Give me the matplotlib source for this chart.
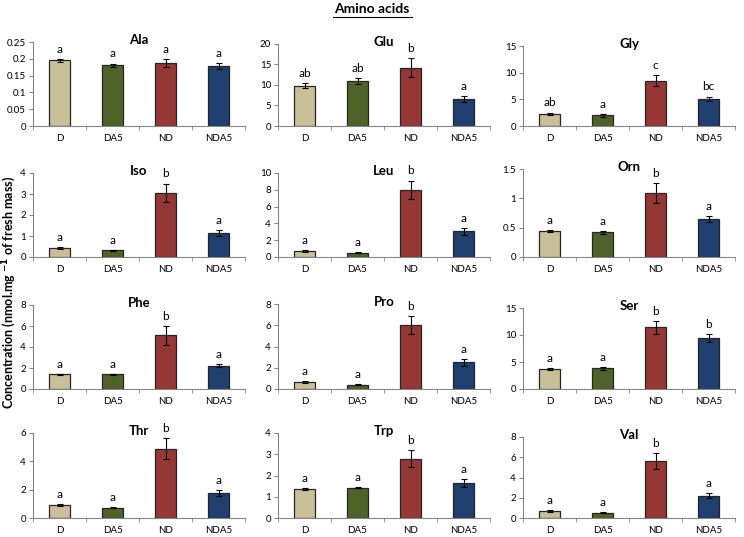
import numpy as np
import matplotlib.pyplot as plt

plt.rcParams['font.family'] = ['Lato', 'DejaVu Sans']

groups = ['D', 'DA5', 'ND', 'NDA5']
colors = ['#C9BF98', '#4F6228', '#953735', '#1F3F6E']

names = ['Ala', 'Glu', 'Gly', 'Iso', 'Leu', 'Orn', 'Phe', 'Pro', 'Ser', 'Thr', 'Trp', 'Val']

ala = [0.195, 0.181, 0.188, 0.179]
ala_err = [0.004, 0.005, 0.011, 0.008]
glu = [9.8, 11.0, 14.2, 6.5]
glu_err = [0.6, 0.7, 2.3, 0.7]
gly = [2.3, 2.0, 8.5, 5.1]
gly_err = [0.2, 0.3, 1.0, 0.4]
iso = [0.43, 0.32, 3.07, 1.15]
iso_err = [0.03, 0.02, 0.43, 0.15]
leu = [0.7, 0.5, 8.0, 3.05]
leu_err = [0.1, 0.05, 1.1, 0.4]
orn = [0.44, 0.42, 1.09, 0.65]
orn_err = [0.02, 0.02, 0.17, 0.05]
phe = [1.4, 1.4, 5.1, 2.2]
phe_err = [0.05, 0.05, 0.9, 0.15]
pro = [0.63, 0.4, 6.0, 2.5]
pro_err = [0.1, 0.03, 0.85, 0.3]
ser = [3.7, 3.8, 11.4, 9.4]
ser_err = [0.15, 0.2, 1.2, 0.7]
thr = [0.92, 0.72, 4.9, 1.75]
thr_err = [0.07, 0.03, 0.75, 0.2]
trp = [1.36, 1.43, 2.78, 1.65]
trp_err = [0.03, 0.03, 0.4, 0.2]
val = [0.7, 0.5, 5.6, 2.2]
val_err = [0.08, 0.05, 0.8, 0.25]

values = [ala, glu, gly, iso, leu, orn, phe, pro, ser, thr, trp, val]
errors = [ala_err, glu_err, gly_err, iso_err, leu_err, orn_err,
          phe_err, pro_err, ser_err, thr_err, trp_err, val_err]
letters = [['a', 'a', 'a', 'a'], ['ab', 'ab', 'b', 'a'], ['ab', 'a', 'c', 'bc'],
           ['a', 'a', 'b', 'a'], ['a', 'a', 'b', 'a'], ['a', 'a', 'b', 'a'],
           ['a', 'a', 'b', 'a'], ['a', 'a', 'b', 'a'], ['a', 'a', 'b', 'b'],
           ['a', 'a', 'b', 'a'], ['a', 'a', 'b', 'a'], ['a', 'a', 'b', 'a']]
ymax = [0.25, 20, 15, 4, 10, 1.5, 8, 8, 15, 6, 4, 8]
ystep = [0.05, 5, 5, 1, 2, 0.5, 2, 2, 5, 2, 1, 2]

# layout in pixels
W, H = 744, 537
lefts = [33, 278, 523]
width = 212
tops = [42, 44, 46, 173, 173, 169, 305, 304, 308, 433, 433, 437]
bottoms = [126, 257, 389, 518]

fig = plt.figure(figsize=(W / 100, H / 100), dpi=100)
axis_col = '#868686'

for i, name in enumerate(names):
    r, c = divmod(i, 3)
    top = tops[i]
    bot = bottoms[r]
    ax = fig.add_axes([lefts[c] / W, 1 - bot / H, width / W, (bot - top) / H])
    x = np.arange(len(groups))
    ax.bar(x, values[i], width=0.4, color=colors, edgecolor='#262626', linewidth=0.9, zorder=2)
    ax.errorbar(x, values[i], yerr=errors[i], fmt='none', ecolor='black',
                elinewidth=0.8, capsize=2, capthick=0.8, zorder=3)
    for j in range(len(groups)):
        ax.annotate(letters[i][j], (x[j], values[i][j] + errors[i][j]),
                    xytext=(0, 3), textcoords='offset points',
                    ha='center', va='bottom', fontsize=8.5)
    ax.set_xlim(-0.5, 3.5)
    ax.set_ylim(0, ymax[i])
    ax.set_yticks(np.arange(0, ymax[i] + ystep[i] / 2, ystep[i]))
    if name == 'Ala':
        ax.set_yticklabels(['0', '0.05', '0.1', '0.15', '0.2', '0.25'])
    elif name == 'Orn':
        ax.set_yticklabels(['0', '0.5', '1', '1.5'])
    ax.set_xticks(x)
    ax.set_xticklabels(groups)
    ax.set_xticks([-0.5, 0.5, 1.5, 2.5, 3.5], minor=True)
    ax.tick_params(axis='x', which='major', length=0, labelsize=7, pad=6)
    ax.tick_params(axis='x', which='minor', length=3, color=axis_col, direction='out')
    ax.tick_params(axis='y', length=3, color=axis_col, labelsize=7, pad=2)
    for s in ['top', 'right']:
        ax.spines[s].set_visible(False)
    for s in ['left', 'bottom']:
        ax.spines[s].set_color(axis_col)
        ax.spines[s].set_linewidth(0.8)
    ax.patch.set_alpha(0)
    ax.text(0.5, 1.02, name, transform=ax.transAxes, ha='center', va='center',
            fontsize=9.5, fontweight='bold')

fig.text(372 / W, 1 - 9 / H, 'Amino acids', ha='center', va='center',
         fontsize=10, fontweight='bold')
fig.add_artist(plt.Line2D([333 / W, 412 / W], [1 - 17 / H, 1 - 17 / H], color='black', linewidth=0.8))

fig.text(9 / W, 1 - 292 / H, r'Concentration (nmol.mg $^{\mathbf{-1}}$ of fresh mass)',
         rotation=90, ha='center', va='center', fontsize=9, fontweight='bold')

fig.savefig('out.png', dpi=100)
